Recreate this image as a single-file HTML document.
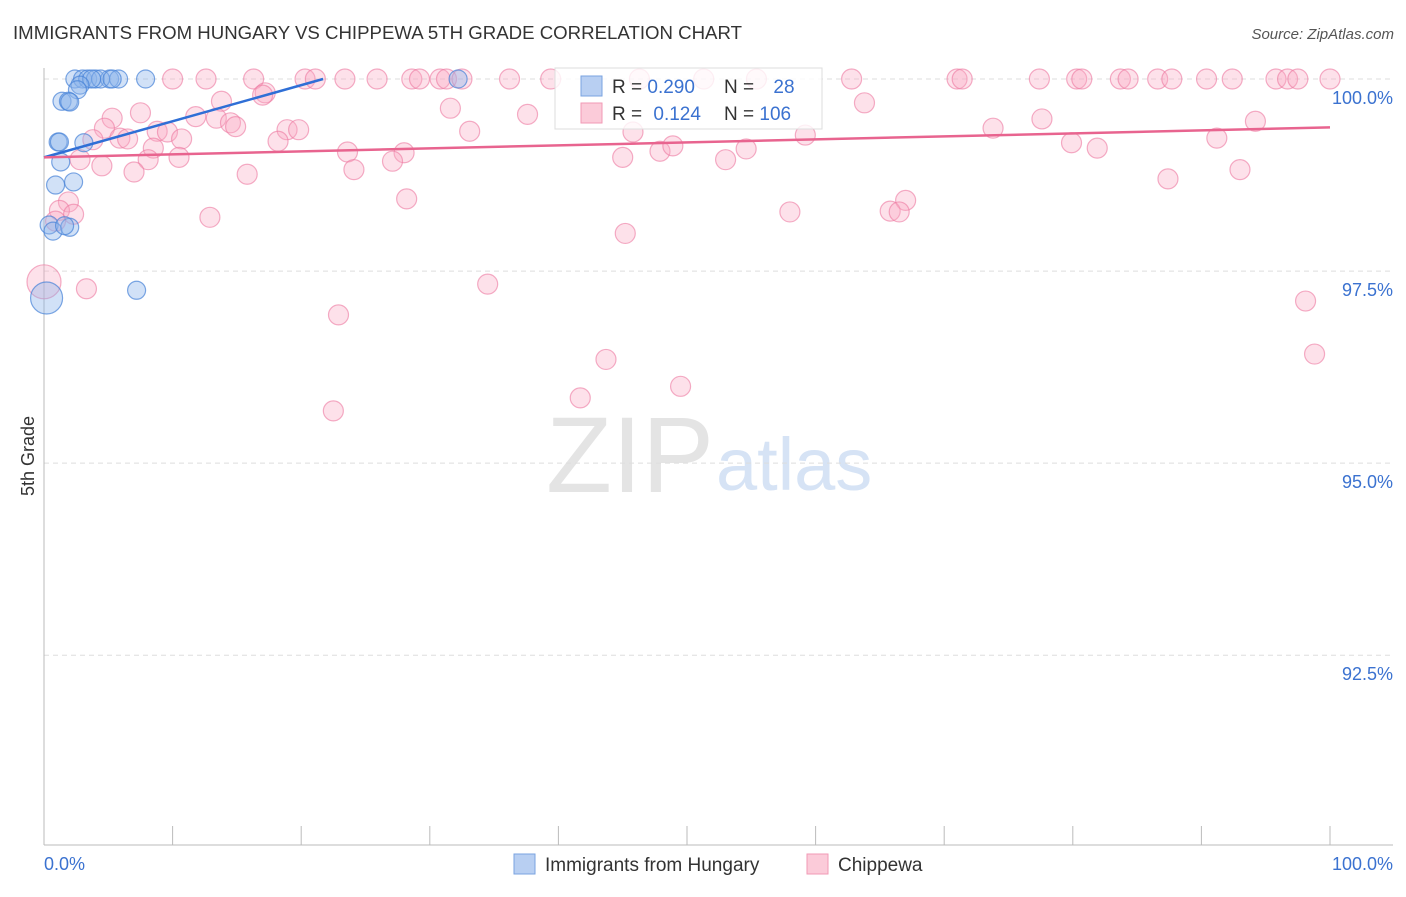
<!DOCTYPE html>
<html><head><meta charset="utf-8"><style>
body{margin:0;background:#fff;font-family:"Liberation Sans",sans-serif;}
svg text{font-family:"Liberation Sans",sans-serif;}
</style></head><body>
<svg id="chart" width="1406" height="892" viewBox="0 0 1406 892" xmlns="http://www.w3.org/2000/svg">
<text x="13" y="39" font-size="18" fill="#333" textLength="729" lengthAdjust="spacingAndGlyphs">IMMIGRANTS FROM HUNGARY VS CHIPPEWA 5TH GRADE CORRELATION CHART</text>
<text x="1394" y="39" font-size="15" fill="#555" text-anchor="end" font-style="italic">Source: ZipAtlas.com</text>
<text x="714" y="492" font-size="108" fill="#e4e4e4" text-anchor="end" font-family="Liberation Serif">ZIP</text>
<text x="716" y="490" font-size="74" fill="#d6e3f5">atlas</text>
<text transform="translate(34,456) rotate(-90)" font-size="18" fill="#333" text-anchor="middle">5th Grade</text>
<g id="grid"></g><g id="axes"></g><g id="pts"></g><g id="trends"></g>
<g>
<rect x="555" y="68" width="267" height="61" fill="rgba(255,255,255,0.8)" stroke="#ddd"/>
<rect x="581" y="76" width="21" height="20" fill="#b8cff2" stroke="#7aa3e0"/>
<rect x="581" y="103" width="21" height="20" fill="#fbcbd9" stroke="#f19ab5"/>
<text x="612" y="93" font-size="19" fill="#333">R = <tspan fill="#3b72d0">0.290</tspan></text>
<text x="724" y="93" font-size="19" fill="#333">N = <tspan fill="#3b72d0" dx="14">28</tspan></text>
<text x="612" y="120" font-size="19" fill="#333">R = <tspan fill="#3b72d0" dx="6">0.124</tspan></text>
<text x="724" y="120" font-size="19" fill="#333">N = <tspan fill="#3b72d0">106</tspan></text>
</g>
<g>
<rect x="514" y="854" width="21" height="20" fill="#b8cff2" stroke="#7aa3e0"/>
<text x="545" y="871" font-size="19" fill="#333">Immigrants from Hungary</text>
<rect x="807" y="854" width="21" height="20" fill="#fbcbd9" stroke="#f19ab5"/>
<text x="838" y="871" font-size="19" fill="#333">Chippewa</text>
</g>
</svg>
<script>
const yTicks=[100,97.5,95,92.5];
const yTickLabels=["100.0%","97.5%","95.0%","92.5%"];
const xTicks=[0,10,20,30,40,50,60,70,80,90,100];
const hungX=[2.4,3.0,3.4,4.0,5.1,5.8,7.9,32.2,4.4,5.3,3.7,2.8,2.6,1.4,1.9,2.0,1.1,1.2,3.1,1.3,0.9,2.3,0.4,0.7,2.0,1.6,7.2,0.2];
const hungY=[100,100,100,100,100,100,100,100,100,100,100,99.92,99.86,99.71,99.71,99.70,99.18,99.18,99.17,98.92,98.62,98.66,98.10,98.02,98.07,98.09,97.25,97.15];
const hungBig=[27];
const chipX=[10.0,12.6,16.3,20.3,21.1,23.4,25.9,28.6,29.2,30.8,31.3,32.5,36.2,39.4,46.3,51.3,55.4,62.8,71.0,71.4,77.4,80.3,80.7,83.7,84.3,86.6,87.7,90.4,92.4,95.8,96.7,97.5,100,
17.2,17.0,13.8,31.6,63.8,37.6,7.5,11.8,13.4,5.3,14.5,14.9,33.1,4.7,8.8,9.6,10.7,5.9,6.5,3.8,18.9,19.8,18.2,45.8,59.2,73.8,77.6,94.2,91.2,79.9,81.9,8.5,8.1,10.5,23.6,28.0,27.1,47.9,48.9,54.6,45.0,53.0,2.8,4.5,7.0,15.8,24.1,87.4,93.0,28.2,67.0,65.8,66.5,58.0,12.9,1.9,1.2,2.3,0.9,45.2,34.5,3.3,0,98.1,22.9,43.7,98.8,49.5,41.7,22.5];
const chipY=[100,100,100,100,100,100,100,100,100,100,100,100,100,100,100,100,100,100,100,100,100,100,100,100,100,100,100,100,100,100,100,100,100,
99.82,99.79,99.71,99.62,99.69,99.54,99.56,99.51,99.49,99.49,99.43,99.38,99.32,99.36,99.32,99.31,99.22,99.23,99.22,99.21,99.34,99.34,99.19,99.31,99.27,99.36,99.48,99.45,99.23,99.17,99.10,99.10,98.95,98.98,99.05,99.04,98.93,99.06,99.13,99.09,98.98,98.95,98.95,98.87,98.79,98.76,98.82,98.70,98.82,98.44,98.42,98.28,98.27,98.27,98.20,98.40,98.29,98.24,98.15,97.99,97.33,97.27,97.36,97.11,96.93,96.35,96.42,96.00,95.85,95.68];
const chipBig=[95];
const hungTrend=[[0,98.98],[21.7,100]];
const chipTrend=[[0,98.98],[100,99.37]];
const NS="http://www.w3.org/2000/svg";
const X0=44,X1=1330,Y0=845,YT=79,YMIN=90.03,YMAX=100;
const sx=v=>X0+(v/100)*(X1-X0);
const sy=v=>Y0-(v-YMIN)/(YMAX-YMIN)*(Y0-YT);
function mk(tag,attrs,parent){const e=document.createElementNS(NS,tag);for(const k in attrs)e.setAttribute(k,attrs[k]);document.getElementById(parent).appendChild(e);return e;}
yTicks.forEach((t,i)=>{
 const g=mk('line',{x1:X0,x2:1393,y1:sy(t),y2:sy(t),stroke:'#ddd','stroke-dasharray':'5,4'},'grid');
 
 
 const l=mk('text',{x:1393,y:sy(t)+25,'font-size':18,fill:'#3b72d0','text-anchor':'end'},'grid');
 l.textContent=yTickLabels[i];
 
 
});
const ax=mk('line',{x1:X0,x2:X0,y1:68,y2:Y0,stroke:'#bbb'},'axes');


const bx=mk('line',{x1:X0,x2:1393,y1:Y0,y2:Y0,stroke:'#bbb'},'axes');


xTicks.forEach(t=>{
 const k=mk('line',{x1:sx(t),x2:sx(t),y1:826,y2:Y0,stroke:'#bbb'},'axes');
 
 
});
const xl0=mk('text',{x:44,y:870,'font-size':18,fill:'#3b72d0'},'axes');xl0.textContent='0.0%';


const xl1=mk('text',{x:1393,y:870,'font-size':18,fill:'#3b72d0','text-anchor':'end'},'axes');xl1.textContent='100.0%';


chipX.forEach((v,i)=>{
 const c=mk('circle',{cx:sx(v),cy:sy(chipY[i]),r:chipBig.includes(i)?17:10,fill:'rgba(248,170,195,0.35)',stroke:'rgba(236,120,160,0.6)','stroke-width':1.2},'pts');
 
 
});
hungX.forEach((v,i)=>{
 const c=mk('circle',{cx:sx(v),cy:sy(hungY[i]),r:hungBig.includes(i)?16:9,fill:'rgba(140,180,235,0.4)',stroke:'rgba(70,130,215,0.7)','stroke-width':1.2},'pts');
 
 
});
const tb=mk('line',{x1:sx(hungTrend[0][0]),y1:sy(hungTrend[0][1]),x2:sx(hungTrend[1][0]),y2:sy(hungTrend[1][1]),stroke:'#2f6fd6','stroke-width':2.5},'trends');


const tp=mk('line',{x1:sx(chipTrend[0][0]),y1:sy(chipTrend[0][1]),x2:sx(chipTrend[1][0]),y2:sy(chipTrend[1][1]),stroke:'#e8648f','stroke-width':2.5},'trends');


</script>
</body></html>
